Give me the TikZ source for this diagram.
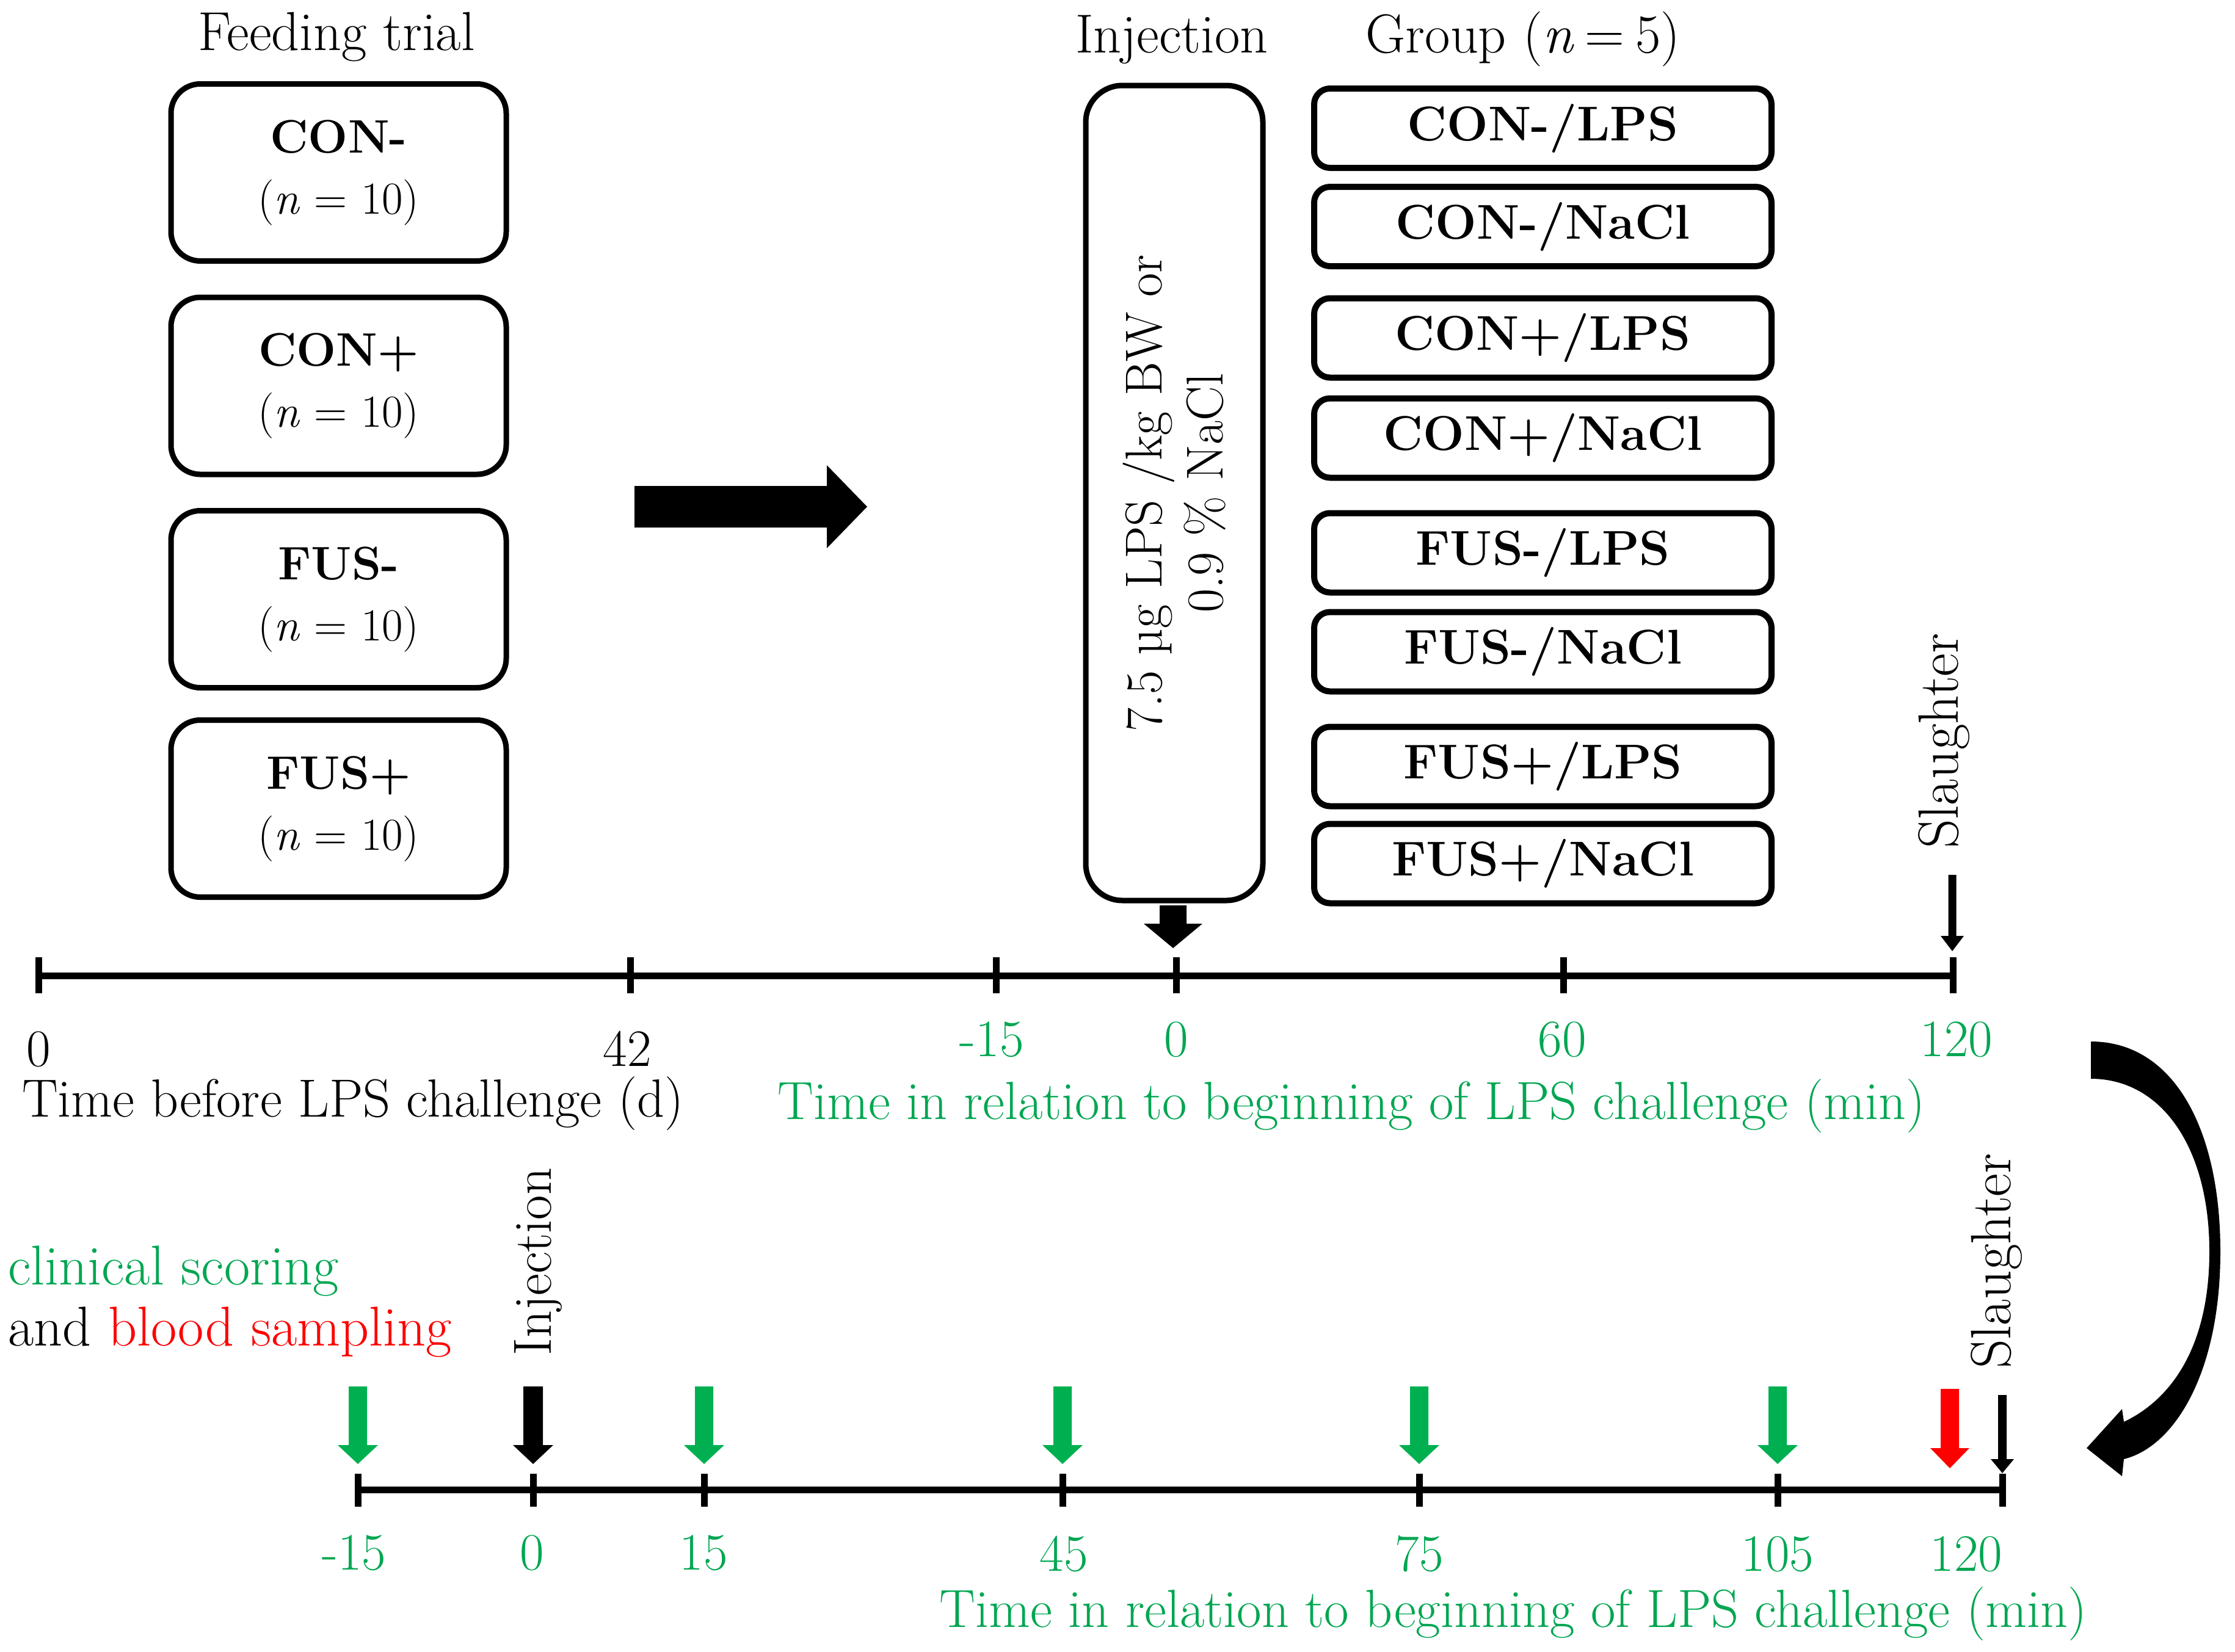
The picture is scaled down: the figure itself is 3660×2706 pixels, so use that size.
\documentclass[tikz,border=0pt]{standalone}
\usepackage{fontspec}
\setmainfont{Latin Modern Roman}
\definecolor{grn}{HTML}{00B050}
\definecolor{gtxt}{HTML}{00A651}
\definecolor{rd}{HTML}{FF0000}
\newcommand\fs[1]{\fontsize{#1}{#1}\selectfont}
% x, top of body, head base, tip, half body width, half head width, colour
\newcommand\blockarrow[7]{\fill[#7] (#1-#5,#2) -- (#1+#5,#2) -- (#1+#5,#3) -- (#1+#6,#3) -- (#1,#4) -- (#1-#6,#3) -- (#1-#5,#3) -- cycle;}
\begin{document}
\begin{tikzpicture}[x=1pt,y=-1pt,
  feed/.style={draw, line width=9pt, rounded corners=48pt, minimum width=549pt, minimum height=290pt, align=center, inner sep=0pt, font=\fontsize{75}{100}\selectfont},
  grp/.style={draw, line width=10pt, rounded corners=26pt, minimum width=749pt, minimum height=130pt, inner sep=0pt, font=\bfseries\fs{80}},
  axis/.style={line width=11pt},
  tick/.style={line width=11pt},
  lbl/.style={anchor=base, inner sep=0pt, font=\fs{86}},
  glbl/.style={lbl, text=gtxt},
  ttl/.style={inner sep=0pt, font=\fs{88}},
  head/.style={anchor=base, inner sep=0pt, font=\fs{90}},
  vlbl/.style={rotate=90, anchor=base west, inner sep=0pt, font=\fs{93}}
]
\useasboundingbox (0,0) rectangle (3660,2706);

% headings
\node[head] (ft) at (551,82) {Feeding trial};
\node[head] (injh) at (1919,86) {Injection};
\node[head] (grph) at (2494,86) {Group (\textit{n}\hspace{0.2em}=\hspace{0.2em}5)};

% feeding boxes
\node[feed] (f1) at (554.5,282.5) {{\bfseries\fs{77}CON-}\\(\textit{n} = 10)};
\node[feed] (f2) at (554.5,632) {{\bfseries\fs{77}CON+}\\(\textit{n} = 10)};
\node[feed] (f3) at (554.5,981.5) {{\bfseries\fs{77}FUS-}\\(\textit{n} = 10)};
\node[feed] (f4) at (554.5,1324.5) {{\bfseries\fs{77}FUS+}\\(\textit{n} = 10)};

% big right arrow
\fill (1039,796) -- (1354,796) -- (1354,762) -- (1420,830) -- (1354,898) -- (1354,864) -- (1039,864) -- cycle;

% injection box
\node[draw, line width=9pt, rounded corners=60pt, rotate=90, minimum width=1335pt, minimum height=290pt, align=center, inner sep=0pt, font=\fontsize{85}{100}\selectfont] (injbox) at (1923,807.5) {7.5 µg LPS /kg BW or\\0.9 \% NaCl};
\blockarrow{1921}{1483}{1513}{1553}{22}{48}{black}

% group boxes
\node[grp] (g1) at (2526.5,210) {CON-/LPS};
\node[grp] (g2) at (2526.5,371) {CON-/NaCl};
\node[grp] (g3) at (2526.5,553.5) {CON+/LPS};
\node[grp] (g4) at (2526.5,717.5) {CON+/NaCl};
\node[grp] (g5) at (2526.5,905.5) {FUS-/LPS};
\node[grp] (g6) at (2526.5,1067.5) {FUS-/NaCl};
\node[grp] (g7) at (2526.5,1255.5) {FUS+/LPS};
\node[grp] (g8) at (2526.5,1414.5) {FUS+/NaCl};

% top slaughter
\node[vlbl] (sl1) at (3206,1390) {Slaughter};
\blockarrow{3197}{1433}{1533}{1558}{6.5}{19}{black}

% top timeline
\draw[axis] (63,1598) -- (3198,1598);
\foreach \x in {63,1032,1631,1926,2560,3198} \draw[tick] (\x,1568) -- (\x,1627);
\node[lbl] (t0) at (63,1746) {0};
\node[lbl] (t42) at (1027,1746) {42};
\node[ttl, anchor=base west] (tdays) at (36,1829) {Time before LPS challenge (d)};
\node[glbl] (m15) at (1624,1730) {-15};
\node[glbl] (m0) at (1926,1730) {0};
\node[glbl] (m60) at (2558,1730) {60};
\node[glbl] (m120) at (3204,1730) {120};
\node[ttl, anchor=base, text=gtxt] (tmin1) at (2213,1833) {Time in relation to beginning of LPS challenge (min)};

% curved arrow
\fill (3424,1706) .. controls (3560,1706) and (3636,1850) .. (3636,2050)
  .. controls (3636,2250) and (3560,2370) .. (3478,2390)
  -- (3475,2418) -- (3417,2372) -- (3475,2308) -- (3478,2329)
  .. controls (3560,2290) and (3618,2200) .. (3618,2050)
  .. controls (3618,1880) and (3540,1767) .. (3424,1767) -- cycle;

% legend
\node[anchor=base west, inner sep=0pt, font=\fs{92}, text=gtxt] (cs) at (13,2104) {clinical scoring};
\node[anchor=base west, inner sep=0pt, font=\fs{92}] (bs) at (13,2204) {and \textcolor{rd}{blood sampling}};

% bottom labels
\node[vlbl, font=\fs{88}] (inj2) at (902,2221) {Injection};
\node[vlbl] (sl2) at (3292,2242) {Slaughter};

% bottom arrows
\foreach \x in {586,1153,1740,2324,2911} {\blockarrow{\x}{2271}{2367}{2398}{15}{33}{grn}}
\blockarrow{873}{2271}{2367}{2398}{16}{33}{black}
\blockarrow{3193}{2275}{2372}{2405}{15}{32}{rd}
\blockarrow{3279}{2285}{2390}{2413}{7}{19}{black}

% bottom timeline
\draw[axis] (586,2440) -- (3279,2440);
\foreach \x in {586,873,1153,1740,2324,2911,3279} \draw[tick] (\x,2414) -- (\x,2468);
\node[glbl] (b15n) at (580,2571) {-15};
\node[glbl] (b0) at (871,2571) {0};
\node[glbl] (b15) at (1152,2571) {15};
\node[glbl] (b45) at (1742,2573) {45};
\node[glbl] (b75) at (2324,2573) {75};
\node[glbl] (b105) at (2911,2573) {105};
\node[glbl] (b120) at (3220,2573) {120};
\node[ttl, anchor=base, text=gtxt] (tmin2) at (2478,2665) {Time in relation to beginning of LPS challenge (min)};
\end{tikzpicture}
\end{document}
